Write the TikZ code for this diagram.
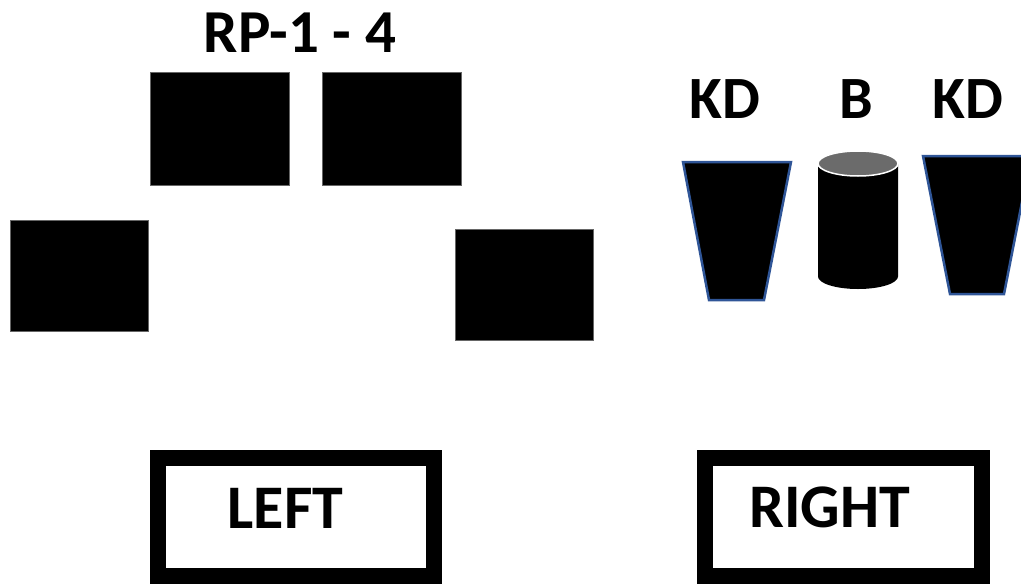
\documentclass[tikz,border=0pt]{standalone}
\usepackage{fontspec}
\setmainfont{Carlito}
\begin{document}
\begin{tikzpicture}[x=1pt,y=-1pt,
  blk/.style={fill=black,draw=black!60,line width=0.6pt},
  lbl/.style={font=\bfseries\fontsize{60}{60}\selectfont,anchor=base,inner sep=0pt},
  biglbl/.style={font=\bfseries\fontsize{62}{62}\selectfont,anchor=base,inner sep=0pt},
  frame/.style={draw=black,line width=16pt,fill=white},
  cup/.style={fill=black,draw={rgb,255:red,47;green,85;blue,151},line width=2.5pt,line join=miter}]
\useasboundingbox (0,0) rectangle (1021,584);
% title
\node[lbl,font=\bfseries\fontsize{61}{61}\selectfont] (rp) at (300,52) {RP-1 - 4};
% squares
\path[blk] (150,72) rectangle (289,185);
\path[blk] (322,72) rectangle (461,185);
\path[blk] (10,220) rectangle (148,331);
\path[blk] (455,229) rectangle (593,340);
% right labels
\node[lbl] (kd1) at (725,118) {KD};
\node[lbl] (b) at (856,118) {B};
\node[lbl] (kd2) at (968,118) {KD};
% cups
\path[cup] (683,162) -- (791,162) -- (764,300) -- (709,300) -- cycle;
\path[cup] (923,156) -- (1031,156) -- (1004,294) -- (950,294) -- cycle;
% cylinder
\path[fill=black] (818,163.5) -- (818,276.5) arc[start angle=180,end angle=0,x radius=40,y radius=12.5] -- (898,163.5) -- cycle;
\path[fill={rgb,255:red,107;green,107;blue,107},draw=white,line width=1.5pt] (858,163.5) ellipse[x radius=40,y radius=12.5];
% bottom frames
\path[frame] (158,458) rectangle (434,576);
\path[frame] (705,458) rectangle (982,576);
\node[biglbl] (left) at (285.5,528) {LEFT};
\node[biglbl] (right) at (829.5,527) {RIGHT};
\end{tikzpicture}
\end{document}
